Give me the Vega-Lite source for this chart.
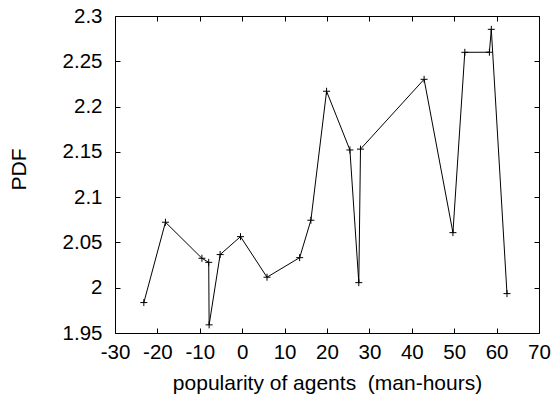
{
  "$schema": "https://vega.github.io/schema/vega-lite/v6.json",
  "width": 424,
  "height": 317,
  "autosize": {"type": "none"},
  "padding": {"left": 115, "top": 16, "right": 17, "bottom": 63},
  "background": "white",
  "config": {
    "view": {"stroke": "black", "strokeWidth": 1},
    "font": "Liberation Sans",
    "axis": {
      "grid": false,
      "domain": false,
      "tickColor": "black",
      "tickSize": -5,
      "tickWidth": 1,
      "labelFlush": false,
      "labelOverlap": false,
      "labelFont": "Liberation Sans",
      "labelFontSize": 20.5,
      "labelColor": "black",
      "titleFont": "Liberation Sans",
      "titleFontWeight": "normal",
      "titleFontSize": 21,
      "titleColor": "black"
    }
  },
  "data": {
    "values": [
      {"i": 1, "x": -23.2, "y": 1.9836},
      {"i": 2, "x": -18.1, "y": 2.0723},
      {"i": 3, "x": -9.5, "y": 2.0325},
      {"i": 4, "x": -7.9, "y": 2.028},
      {"i": 5, "x": -7.8, "y": 1.959},
      {"i": 6, "x": -5.2, "y": 2.0366},
      {"i": 7, "x": -0.4, "y": 2.0564},
      {"i": 8, "x": 5.85, "y": 2.0116},
      {"i": 9, "x": 13.55, "y": 2.0332},
      {"i": 10, "x": 16.2, "y": 2.0745},
      {"i": 11, "x": 19.9, "y": 2.2169},
      {"i": 12, "x": 25.4, "y": 2.1521},
      {"i": 13, "x": 27.5, "y": 2.0056},
      {"i": 14, "x": 27.9, "y": 2.153},
      {"i": 15, "x": 42.9, "y": 2.2301},
      {"i": 16, "x": 49.7, "y": 2.0608},
      {"i": 17, "x": 52.5, "y": 2.2599},
      {"i": 18, "x": 58.3, "y": 2.26},
      {"i": 19, "x": 58.75, "y": 2.2853},
      {"i": 20, "x": 62.45, "y": 1.9935}
    ]
  },
  "layer": [
    {
      "mark": {"type": "line", "color": "black", "strokeWidth": 1},
      "encoding": {
        "x": {"field": "x", "type": "quantitative", "scale": {"domain": [-30, 70], "nice": false, "zero": false},
          "axis": {"orient": "bottom", "values": [-30, -20, -10, 0, 10, 20, 30, 40, 50, 60, 70], "labelExpr": "'' + datum.value", "labelPadding": 14, "title": "popularity of agents\u00a0 (man-hours)", "titlePadding": 10}},
        "y": {"field": "y", "type": "quantitative", "scale": {"domain": [1.95, 2.3], "nice": false, "zero": false},
          "axis": {"orient": "left", "values": [1.95, 2.0, 2.05, 2.1, 2.15, 2.2, 2.25, 2.3], "labelExpr": "'' + datum.value", "labelPadding": 18, "title": "PDF", "titleX": -96, "titleY": 153, "titleBaseline": "middle", "titleAlign": "center"}},
        "order": {"field": "i", "type": "quantitative"}
      }
    },
    {
      "mark": {"type": "point", "shape": "M-1,0H1M0,-1V1", "filled": false, "stroke": "black", "strokeWidth": 1, "size": 49, "opacity": 1},
      "encoding": {
        "x": {"field": "x", "type": "quantitative",
          "axis": {"orient": "top", "values": [-30, -20, -10, 0, 10, 20, 30, 40, 50, 60, 70], "labels": false, "title": null}},
        "y": {"field": "y", "type": "quantitative",
          "axis": {"orient": "right", "values": [1.95, 2.0, 2.05, 2.1, 2.15, 2.2, 2.25, 2.3], "labels": false, "title": null}}
      }
    }
  ],
  "resolve": {"axis": {"x": "independent", "y": "independent"}}
}
